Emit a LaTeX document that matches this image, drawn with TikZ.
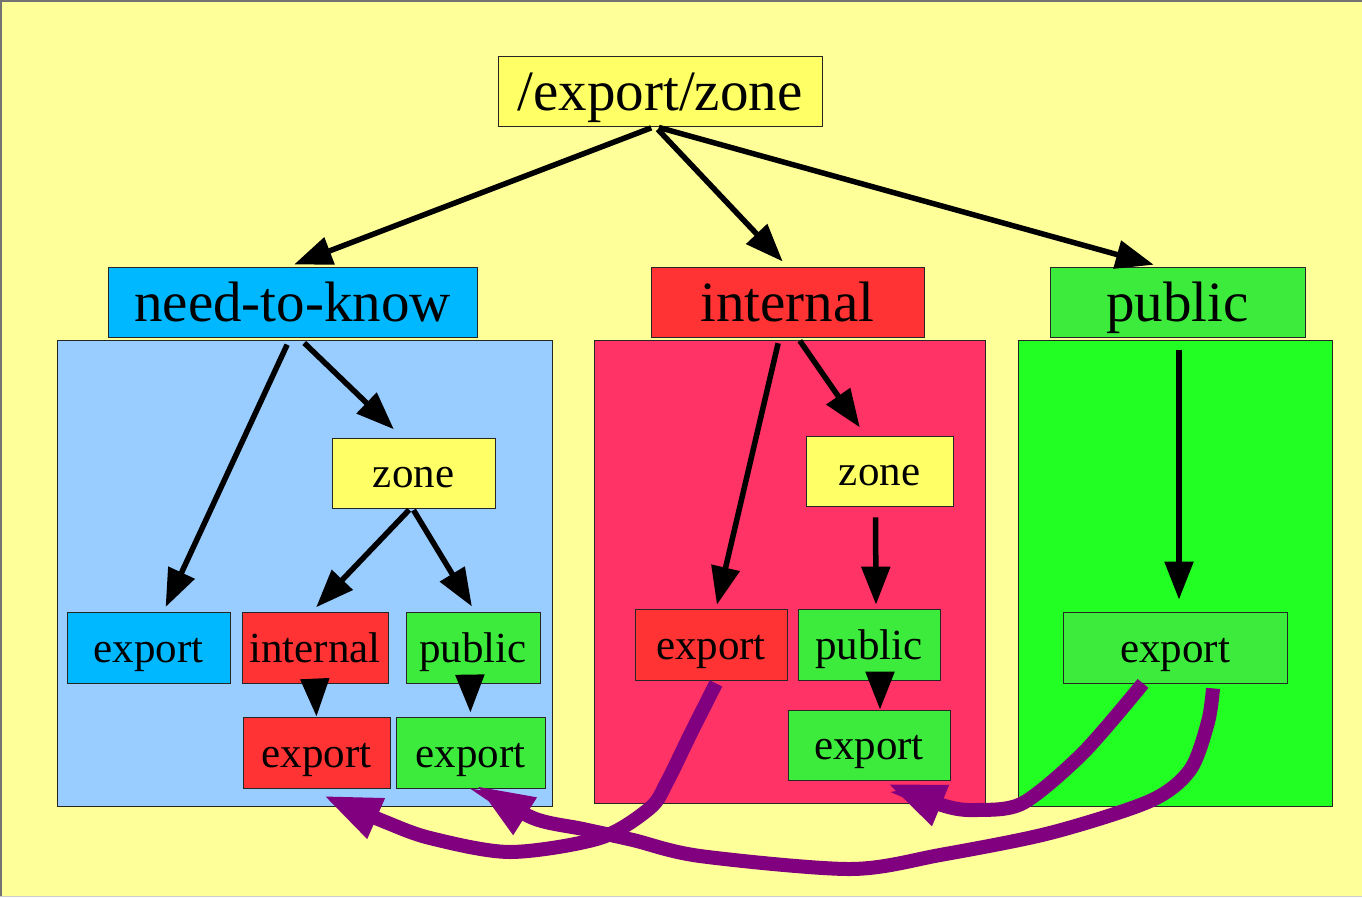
\documentclass[tikz,border=0pt]{standalone}
\usepackage{fontspec}
\setmainfont{Liberation Serif}
\usetikzlibrary{arrows.meta}
\definecolor{bg}{RGB}{255,255,153}
\definecolor{yel}{RGB}{255,255,102}
\definecolor{cyanbox}{RGB}{0,184,255}
\definecolor{bluearea}{RGB}{153,204,255}
\definecolor{redbox}{RGB}{255,51,51}
\definecolor{redarea}{RGB}{255,51,102}
\definecolor{greenbox}{RGB}{61,235,61}
\definecolor{greenarea}{RGB}{34,255,34}
\definecolor{purp}{RGB}{128,0,128}
\begin{document}
\begin{tikzpicture}[x=1pt,y=-1pt,
  box/.style={draw=black!85, line width=0.8pt, inner sep=0pt,
    font=\fontsize{43}{50}\selectfont, text height=36pt, text depth=7pt},
  bigbox/.style={box, font=\fontsize{57}{66}\selectfont, text height=48pt, text depth=10pt},
  area/.style={draw=black!85, line width=0.8pt},
  link/.style={line width=5.5pt, -{Triangle[length=38pt,width=28pt]}},
  move/.style={draw=purp, line width=14pt, -{Triangle[length=58pt,width=40pt]}},
]
\useasboundingbox (0,0) rectangle (1362,897);
\fill[bg] (0,0) rectangle (1362,897);
\draw[gray!90!black, line width=2pt] (1,897) -- (1,1) -- (1362,1);
\draw[gray!40, line width=1pt] (0,896.5) -- (1362,896.5);

% zone areas
\draw[area, fill=bluearea]  (57,340)   rectangle (552,806);
\draw[area, fill=redarea]   (594,340)  rectangle (985,803);
\draw[area, fill=greenarea] (1018,340) rectangle (1332,806);

% top level
\node[bigbox, fill=yel, minimum width=324pt, minimum height=70pt] (top) at (660,91) {/export/zone};
\node[bigbox, fill=cyanbox, minimum width=369pt, minimum height=70pt] (ntk) at (292.5,302) {need-to-know};
\node[bigbox, fill=redbox, minimum width=273pt, minimum height=70pt] (int) at (787.5,302) {internal};
\node[bigbox, fill=greenbox, minimum width=255pt, minimum height=70pt] (pub) at (1177.5,302) {public};

% need-to-know zone
\node[box, fill=yel, minimum width=163pt, minimum height=70pt] (bzone) at (413.5,473) {zone};
\node[box, fill=cyanbox, minimum width=163pt, minimum height=71pt] (bexp) at (148.5,647.5) {export};
\node[box, fill=redbox, minimum width=146pt, minimum height=71pt] (bint) at (315,647.5) {internal};
\node[box, fill=greenbox, minimum width=134pt, minimum height=71pt] (bpub) at (473,647.5) {public};
\node[box, fill=redbox, minimum width=147pt, minimum height=71pt] (bexpr) at (316.5,752.5) {export};
\node[box, fill=greenbox, minimum width=149pt, minimum height=71pt] (bexpg) at (470.5,752.5) {export};

% internal zone
\node[box, fill=yel, minimum width=147pt, minimum height=70pt] (rzone) at (879.5,471) {zone};
\node[box, fill=redbox, minimum width=152pt, minimum height=71pt] (rexp) at (711,644.5) {export};
\node[box, fill=greenbox, minimum width=142pt, minimum height=71pt] (rpub) at (869,644.5) {public};
\node[box, fill=greenbox, minimum width=162pt, minimum height=70pt] (rexpg) at (869,745) {export};

% public zone
\node[box, fill=greenbox, minimum width=224pt, minimum height=71pt] (gexp) at (1175,647.5) {export};

% hierarchy
\draw[link, shorten <=4pt, shorten >=6pt] ([xshift=-5pt]top.south) -- ([xshift=-4pt]ntk.north);
\draw[link, shorten <=4pt, shorten >=7pt] ([xshift=-5pt]top.south) -- (int.north);
\draw[link, shorten <=4pt, shorten >=7pt] ([xshift=-5pt]top.south) -- ([xshift=-17pt]pub.north);

\draw[link, shorten <=8pt, shorten >=5pt] ([xshift=-2pt]ntk.south) -- ([xshift=15pt]bexp.north);
\draw[link, shorten <=8pt, shorten >=12pt] ([xshift=6pt]ntk.south) -- ([xshift=-11pt]bzone.north);
\draw[link, shorten <=2pt, shorten >=6pt] ([xshift=-3pt]bzone.south) -- ([xshift=-3pt]bint.north);
\draw[link, shorten <=2pt, shorten >=6pt] ([xshift=-1pt]bzone.south) -- ([xshift=2pt]bpub.north);
\draw[link] (bint.south) -- (bexpr.north);
\draw[link, shorten >=4pt] ([xshift=-3pt]bpub.south) -- (bexpg.north);

\draw[link, shorten <=6pt, shorten >=4pt] ([xshift=-8pt]int.south) -- ([xshift=5pt]rexp.north);
\draw[link, shorten <=4pt, shorten >=10pt] ([xshift=10pt]int.south) -- ([xshift=-14pt]rzone.north);
\draw[link, shorten <=11pt, shorten >=4pt] ([xshift=-4pt]rzone.south) -- ([xshift=7pt]rpub.north);
\draw[link] ([xshift=11pt]rpub.south) -- ([xshift=11pt]rexpg.north);

\draw[link, shorten <=13pt, shorten >=12pt] ([xshift=1.5pt]pub.south) -- ([xshift=4pt]gexp.north);

% copies between zones
\draw[move] plot[smooth, tension=0.5] coordinates {
  ([xshift=5pt,yshift=-3pt]rexp.south) (690,735) (667,782) (650,808) (600,838)
  (510,852) (430,838) (383,821) ([xshift=6.5pt,yshift=-7pt]bexpr.south)};
\draw[move] plot[smooth, tension=0.5] coordinates {
  ([xshift=-32pt]gexp.south) (1083,753) (1023,803) (977,810) (945,806)
  ([xshift=18pt,yshift=-3pt]rexpg.south)};
\draw[move] plot[smooth, tension=0.5] coordinates {
  ([xshift=38pt,yshift=-5pt]gexp.south) (1208,722) (1190,770) (1150,801) (1050,833)
  (940,855) (850,869) (700,856) (633,840) (583,829) (533,818)
  ([xshift=5.5pt,yshift=3pt]bexpg.south)};
\end{tikzpicture}
\end{document}
